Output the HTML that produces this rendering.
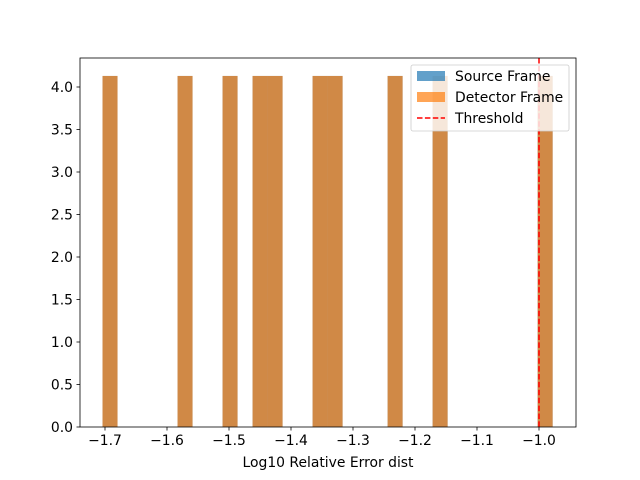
<!DOCTYPE html>
<html><head><meta charset="utf-8"><style>body{margin:0;background:#fff}svg{display:block;font-family:"DejaVu Sans","Liberation Sans",sans-serif}</style></head>
<body>
<svg id="c" width="640" height="480"></svg>
<script>
const binStart = -1.704;
const binWidth = 0.02420;
const sourceCounts = [4.13,0,0,0,0,4.13,0,0,4.13,0,4.13,4.13,0,0,4.13,4.13,0,0,0,4.13,0,0,4.13,0,0,0,0,0,0,4.13];
const detectorCounts = [4.13,0,0,0,0,4.13,0,0,4.13,0,4.13,4.13,0,0,4.13,4.13,0,0,0,4.13,0,0,4.13,0,0,0,0,0,0,4.13];
const xTicks = [-1.7,-1.6,-1.5,-1.4,-1.3,-1.2,-1.1,-1.0];
const xTickLabels = ["\u22121.7","\u22121.6","\u22121.5","\u22121.4","\u22121.3","\u22121.2","\u22121.1","\u22121.0"];
const yTicks = [0,0.5,1,1.5,2,2.5,3,3.5,4];
const threshold = -1.0;
const L=80,R=576,T=58,B=427;
const xs=v=>105+(v+1.7)/0.1*62;
const ys=v=>B-v*85;
const NS="http://www.w3.org/2000/svg",svg=document.getElementById('c');
function mk(t,a,p){const e=document.createElementNS(NS,t);for(const k in a)e.setAttribute(k,a[k]);(p||svg).appendChild(e);return e;}
function bars(arr,color,name){arr.forEach((h,i)=>{if(!h)return;const x0=xs(binStart+i*binWidth),x1=xs(binStart+(i+1)*binWidth);
const r=mk('rect',{x:x0,y:ys(h),width:x1-x0,height:B-ys(h),fill:color,'fill-opacity':0.7});

});}
bars(sourceCounts,'#1f77b4','source-frame');
bars(detectorCounts,'#ff7f0e','detector-frame');
const th=mk('line',{x1:xs(threshold),x2:xs(threshold),y1:T,y2:B,stroke:'red','stroke-width':1.5,'stroke-dasharray':'5.5,2.4'});


const fr=mk('rect',{x:L,y:T,width:R-L,height:B-T,fill:'none',stroke:'#000','stroke-width':0.8});


xTicks.forEach((v,i)=>{mk('line',{x1:xs(v),x2:xs(v),y1:B,y2:B+3.5,stroke:'#000','stroke-width':0.8});
const t=mk('text',{x:xs(v),y:B+18,'font-size':13.9,'text-anchor':'middle'});t.textContent=xTickLabels[i];

});
yTicks.forEach(v=>{mk('line',{x1:L-3.5,x2:L,y1:ys(v),y2:ys(v),stroke:'#000','stroke-width':0.8});
const t=mk('text',{x:L-7,y:ys(v)+5,'font-size':13.9,'text-anchor':'end'});t.textContent=v.toFixed(1);

});
const xl=mk('text',{x:(L+R)/2,y:467,'font-size':13.9,'text-anchor':'middle'});xl.textContent='Log10 Relative Error dist';


const lg=mk('g',{});


mk('rect',{x:411,y:65,width:158,height:66,rx:2,fill:'#fff','fill-opacity':0.8,stroke:'#ccc','stroke-width':0.8},lg);
[['Source Frame','#1f77b4'],['Detector Frame','#ff7f0e']].forEach((e,i)=>{
mk('rect',{x:417,y:71+i*21,width:28,height:10,fill:e[1],'fill-opacity':0.7},lg);
const t=mk('text',{x:455,y:81+i*21,'font-size':13.9},lg);t.textContent=e[0];

});
mk('line',{x1:417,x2:445,y1:118,y2:118,stroke:'red','stroke-width':1.5,'stroke-dasharray':'5.5,2.4'},lg);
const t3=mk('text',{x:455,y:123,'font-size':13.9},lg);t3.textContent='Threshold';


</script>
</body></html>
